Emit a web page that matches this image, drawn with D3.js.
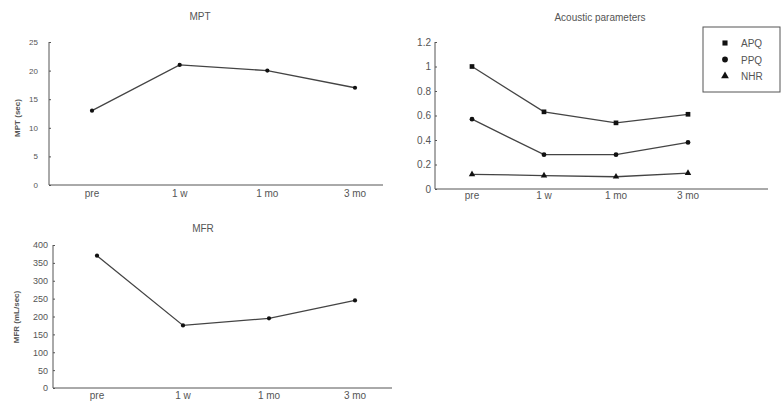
<!DOCTYPE html>
<html>
<head>
<meta charset="utf-8">
<script src="https://cdn.jsdelivr.net/npm/d3@7"></script>
<style>
  body { margin: 0; background: #fff; }
  text { font-family: "Liberation Sans", Arial, sans-serif; fill: #555; }
  .axis path, .axis line { stroke: #555; }
</style>
</head>
<body>
<div id="chart"></div>
<script>
// data
var categories = ["pre", "1 w", "1 mo", "3 mo"];
var mptValues = [13, 21, 20, 17];
var mfrValues = [370, 175, 195, 245];
var apqValues = [1.0, 0.63, 0.54, 0.61];
var ppqValues = [0.57, 0.28, 0.28, 0.38];
var nhrValues = [0.12, 0.11, 0.10, 0.13];
var mptTicks = [0, 5, 10, 15, 20, 25];
var mfrTicks = [0, 50, 100, 150, 200, 250, 300, 350, 400];
var acTicks = [0, 0.2, 0.4, 0.6, 0.8, 1, 1.2];
var seriesNames = ["APQ", "PPQ", "NHR"];

var svg = d3.select("#chart").append("svg")
    .attr("width", 783)
    .attr("height", 401);

//--------------------------------------------------------------------------
// one small line panel
function panel(opt) {
  var g = svg.append("g");

  var x = d3.scalePoint().domain(categories).range([opt.x0, opt.x1]);
  var y = d3.scaleLinear().domain([0, opt.max]).range([opt.yBottom, opt.yTop]);

  // y axis
  var ya = g.append("g")
      .attr("class", "axis")
      .attr("transform", "translate(" + opt.left + ",0)")
      .call(d3.axisRight(y).tickValues(opt.ticks).tickSize(2).tickFormat(opt.fmt || d3.format("")));
  ya.select(".domain").attr("d", "M0," + opt.yTop + "V" + opt.yBottom);
  ya.selectAll("text")
      .attr("x", -opt.tickGap)
      .attr("text-anchor", "end")
      .style("font-size", opt.tickFont);

  // x axis, plain line with labels
  g.append("line")
      .attr("x1", opt.left).attr("x2", opt.right)
      .attr("y1", opt.yBottom).attr("y2", opt.yBottom)
      .attr("stroke", "#555");
  g.selectAll(".cat")
      .data(categories)
      .enter().append("text")
      .attr("x", d => x(d) + (opt.labelShift || 0))
      .attr("y", opt.yBottom + opt.catDy)
      .attr("text-anchor", "middle")
      .style("font-size", "10px")
      .text(d => d);

  g.append("text")
      .attr("x", opt.titleX)
      .attr("y", opt.titleY)
      .attr("text-anchor", "middle")
      .style("font-size", "10px")
      .text(opt.title);

  if (opt.ylabel) {
    g.append("text")
        .attr("transform", "translate(" + opt.ylabelX + "," + opt.ylabelY + ") rotate(-90)")
        .attr("text-anchor", "middle")
        .style("font-size", "8px")
        .style("font-weight", "bold")
        .text(opt.ylabel);
  }

  var line = d3.line().x((d, i) => x(categories[i])).y(d => y(d));
  opt.series.forEach(function (s) {
    g.append("path")
        .datum(s.values)
        .attr("d", line)
        .attr("fill", "none")
        .attr("stroke", "#444")
        .attr("stroke-width", 1.3);
    g.selectAll(null)
        .data(s.values)
        .enter().append("path")
        .attr("transform", (d, i) => "translate(" + x(categories[i]) + "," + y(d) + ")")
        .attr("d", d3.symbol().type(s.symbol).size(s.size || 14))
        .attr("fill", "#111");
  });
}

panel({
  title: "MPT", titleX: 200, titleY: 20,
  ylabel: "MPT (sec)", ylabelX: 20, ylabelY: 118,
  left: 49, right: 383, x0: 92, x1: 355,
  yTop: 42, yBottom: 185, max: 25, ticks: mptTicks,
  tickGap: 11, tickFont: "8px", catDy: 12,
  series: [{ values: mptValues, symbol: d3.symbolCircle }]
});

panel({
  title: "MFR", titleX: 203, titleY: 232,
  ylabel: "MFR (mL/sec)", ylabelX: 19, ylabelY: 317,
  left: 53, right: 392, x0: 97, x1: 355,
  yTop: 245, yBottom: 388, max: 400, ticks: mfrTicks,
  tickGap: 5, tickFont: "9px", catDy: 11,
  series: [{ values: mfrValues, symbol: d3.symbolCircle }]
});

panel({
  title: "Acoustic parameters", titleX: 600, titleY: 21,
  left: 435, right: 768, x0: 472, x1: 688,
  yTop: 42, yBottom: 189, max: 1.2, ticks: acTicks,
  tickGap: 4, tickFont: "10px", catDy: 10,
  fmt: d => d === 0 ? "0" : d === 1 ? "1" : d3.format(".1f")(d),
  series: [
    { values: apqValues, symbol: d3.symbolSquare, size: 22 },
    { values: ppqValues, symbol: d3.symbolCircle, size: 18 },
    { values: nhrValues, symbol: d3.symbolTriangle, size: 18 }
  ]
});

// legend
var legend = svg.append("g");
legend.append("rect")
    .attr("x", 703).attr("y", 27)
    .attr("width", 77).attr("height", 65)
    .attr("fill", "#fff")
    .attr("stroke", "#555");
var legendSymbols = [d3.symbolSquare, d3.symbolCircle, d3.symbolTriangle];
seriesNames.forEach(function (name, i) {
  legend.append("path")
      .attr("transform", "translate(725," + (43 + i * 16.5) + ")")
      .attr("d", d3.symbol().type(legendSymbols[i]).size(26))
      .attr("fill", "#111");
  legend.append("text")
      .attr("x", 741)
      .attr("y", 47 + i * 16.5)
      .style("font-size", "10px")
      .text(name);
});
</script>
</body>
</html>
